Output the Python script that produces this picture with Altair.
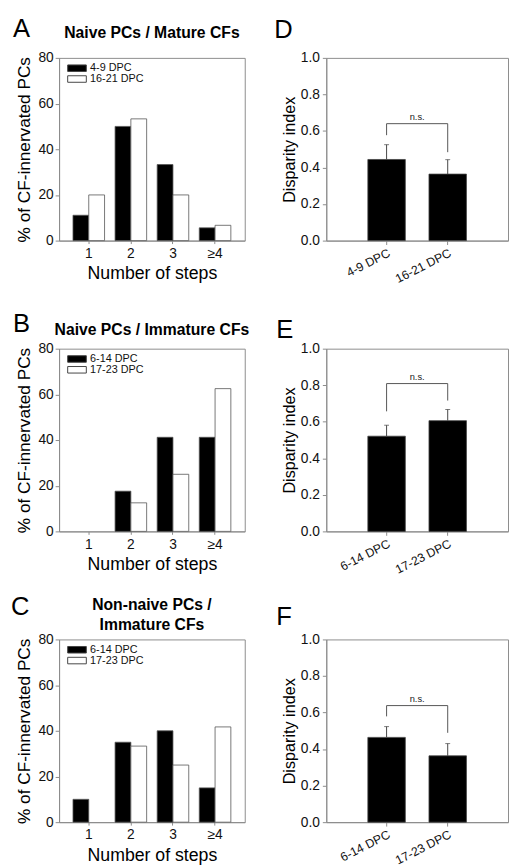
import altair as alt
import pandas as pd

FONT = "Liberation Sans"
GRAY = "#8c8c8c"

# ---------------- data ----------------
steps = ["1", "2", "3", "≥4"]

a_title = ["Naive PCs / Mature CFs"]
a_series = ["4-9 DPC", "16-21 DPC"]
a_early = [11.1, 50.0, 33.3, 5.6]
a_late = [20.0, 53.3, 20.0, 6.7]

b_title = ["Naive PCs / Immature CFs"]
b_series = ["6-14 DPC", "17-23 DPC"]
b_early = [0.0, 17.6, 41.2, 41.2]
b_late = [0.0, 12.5, 25.0, 62.5]

c_title = ["Non-naive PCs /", "Immature CFs"]
c_series = ["6-14 DPC", "17-23 DPC"]
c_early = [10.0, 35.0, 40.0, 15.0]
c_late = [0.0, 33.3, 25.0, 41.7]

d_groups = ["4-9 DPC", "16-21 DPC"]
d_mean = [0.444, 0.364]
d_sem = [0.081, 0.079]
d_bracket = [0.577, 0.640, 0.484]

e_groups = ["6-14 DPC", "17-23 DPC"]
e_mean = [0.521, 0.606]
e_sem = [0.060, 0.061]
e_bracket = [0.657, 0.809, 0.716]

f_groups = ["6-14 DPC", "17-23 DPC"]
f_mean = [0.464, 0.363]
f_sem = [0.059, 0.067]
f_bracket = [0.579, 0.638, 0.489]

ns_label = "n.s."
hist_xtitle = "Number of steps"
hist_ytitle = "% of CF-innervated PCs"
disp_ytitle = "Disparity index"

LW, RW, H = 189, 185, 186


def text_layer(text, x, y, size, weight="normal", align="left", line_height=None):
    kw = dict(text=text, font=FONT, fontSize=size, fontWeight=weight, align=align,
              baseline="alphabetic", color="#000000")
    if line_height:
        kw["lineHeight"] = line_height
    return alt.Chart(pd.DataFrame({"k": [0]})).mark_text(**kw).encode(
        x=alt.value(x), y=alt.value(y))


def hist_panel(letter, title, series, early, late, letter_xy, title_y):
    df = pd.DataFrame({
        "step": steps + steps,
        "series": [series[0]] * len(steps) + [series[1]] * len(steps),
        "pct": early + late,
    })
    bars = alt.Chart(df).mark_bar(stroke="#555555", strokeWidth=0.8).encode(
        x=alt.X("step:N", sort=steps,
                scale=alt.Scale(paddingInner=0.25, paddingOuter=0.33),
                axis=alt.Axis(title=hist_xtitle, labelAngle=0, labelFontSize=14,
                              titleFontSize=18, tickSize=3, labelPadding=3,
                              titlePadding=5)),
        xOffset=alt.XOffset("series:N", sort=series,
                            scale=alt.Scale(paddingInner=0, paddingOuter=0)),
        y=alt.Y("pct:Q", scale=alt.Scale(domain=[0, 80], nice=False),
                axis=alt.Axis(values=[0, 20, 40, 60, 80], title=hist_ytitle,
                              labelFontSize=14, titleFontSize=17.5, tickSize=4,
                              labelPadding=2, titlePadding=5)),
        fill=alt.Fill("series:N", sort=series,
                      scale=alt.Scale(domain=series, range=["#000000", "#ffffff"]),
                      legend=alt.Legend(title=None, orient="none", legendX=8, legendY=5,
                                        padding=0, symbolType="M-1,-0.7H3V0.7H-1Z",
                                        symbolSize=90, symbolStrokeColor="#444444",
                                        symbolStrokeWidth=1, labelFont=FONT,
                                        labelFontSize=11, labelOffset=12.5,
                                        rowPadding=-1, labelColor="#111111")),
        strokeOpacity=alt.condition("datum.pct > 0", alt.value(1), alt.value(0)),
    )
    t = text_layer(title if len(title) > 1 else title[0], LW / 2, title_y, 16,
                   weight="bold", align="center", line_height=20)
    l = text_layer(letter, letter_xy[0], letter_xy[1], 26)
    return alt.layer(bars, t, l).properties(width=LW, height=H)


def disp_panel(letter, groups, mean, sem, bracket, letter_xy):
    top = [round(m + s, 3) for m, s in zip(mean, sem)]
    df = pd.DataFrame({"group": groups, "mean": mean, "top": top})
    pi, po = 0.387, 0.68
    x = alt.X("group:N", sort=groups, scale=alt.Scale(paddingInner=pi, paddingOuter=po),
              axis=alt.Axis(title=None, labelAngle=-27, labelFontSize=12.5, tickSize=4,
                            labelPadding=2, labelFont=FONT))
    yaxis = alt.Axis(values=[0, 0.2, 0.4, 0.6, 0.8, 1.0], format=".1f",
                     title=disp_ytitle, labelFontSize=14, titleFontSize=16.5,
                     tickSize=4, labelPadding=3, titlePadding=3)
    yscale = alt.Scale(domain=[0, 1], nice=False)

    def Y(f):
        return alt.Y(f, scale=yscale, axis=yaxis)

    base = alt.Chart(df)
    bars = base.mark_bar(color="#000000", stroke="#444444", strokeWidth=0.8).encode(
        x=x, y=Y("mean:Q"))
    err = base.mark_rule(color="#444444", strokeWidth=1).encode(
        x=x, y=Y("mean:Q"), y2="top:Q")
    cap = base.mark_tick(color="#444444", orient="horizontal", size=5, thickness=1).encode(
        x=x, y=Y("top:Q"))
    bdf = pd.DataFrame({
        "group": [groups[0], groups[0], groups[1], groups[1]],
        "v": [bracket[0], bracket[1], bracket[1], bracket[2]],
        "o": [0, 1, 2, 3],
    })
    br = alt.Chart(bdf).mark_line(color="#555555", strokeWidth=1).encode(
        x=x, y=Y("v:Q"), order="o:Q")
    step = RW / (len(groups) - pi + 2 * po)
    ndf = pd.DataFrame({"group": [groups[0]], "v": [bracket[1]]})
    ns = alt.Chart(ndf).mark_text(text=ns_label, font=FONT, fontSize=9.5,
                                  baseline="bottom", dy=-2, dx=step / 2,
                                  color="#222222").encode(x=x, y=Y("v:Q"))
    l = text_layer(letter, letter_xy[0], letter_xy[1], 26)
    return alt.layer(bars, err, cap, br, ns, l).properties(width=RW, height=H)


A = hist_panel("A", a_title, a_series, a_early, a_late, (-47, -21), -20)
B = hist_panel("B", b_title, b_series, b_early, b_late, (-47, -17), -14)
C = hist_panel("C", c_title, c_series, c_early, c_late, (-49, -25), -30)
D = disp_panel("D", d_groups, d_mean, d_sem, d_bracket, (-53, -20))
E = disp_panel("E", e_groups, e_mean, e_sem, e_bracket, (-51, -11))
F = disp_panel("F", f_groups, f_mean, f_sem, f_bracket, (-51, -15))

chart = alt.concat(
    A, D, B, E, C, F, columns=2,
    spacing={"row": 110, "column": 83}, bounds="flush",
).resolve_scale(
    x="independent", y="independent", xOffset="independent", fill="independent"
).resolve_legend(
    fill="independent"
).properties(
    padding={"left": 2, "top": 0, "right": 0, "bottom": 0}
).configure_view(
    stroke=GRAY, strokeWidth=1
).configure_axis(
    domainColor=GRAY, tickColor=GRAY, labelColor="#111111", titleColor="#000000",
    labelFont=FONT, titleFont=FONT, titleFontWeight="normal", grid=False
)

chart.save("out.html", embed_options={"renderer": "svg", "actions": False})
